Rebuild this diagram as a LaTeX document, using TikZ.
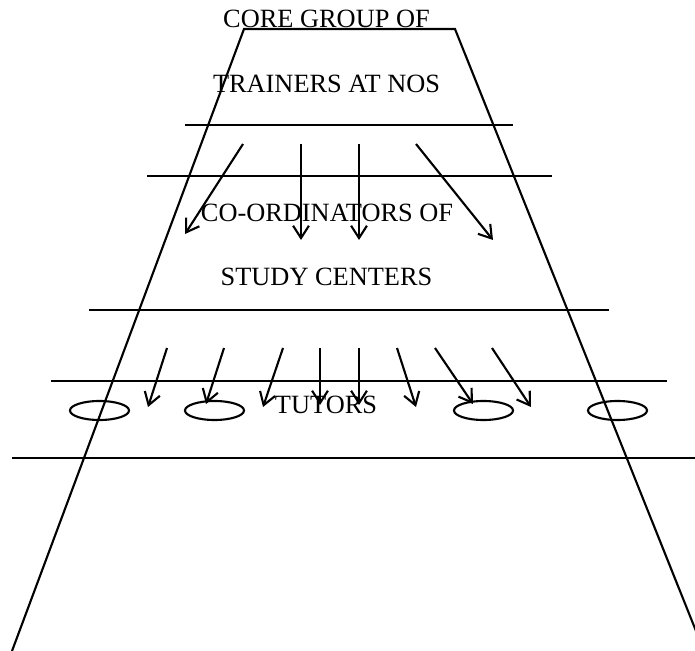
\documentclass[tikz,border=0pt]{standalone}
\usepackage{fontspec}
\setmainfont{Liberation Serif}
\usetikzlibrary{arrows.meta}

\tikzset{
  levtext/.style={anchor=base,inner sep=0pt,font=\fontsize{22.5}{27}\selectfont}
}

\begin{document}
\begin{tikzpicture}[x=0.3mm,y=-0.3mm,line width=1.8pt,
    >={Straight Barb[length=10.5pt,width=13.5pt,line width=1.8pt]}]
 \clip (0,0) rectangle (695,651);
 % outline of the pyramid
 \draw (12,651) -- (244,29) -- (455,29) -- (704,651);
 \draw (185,125) -- (513,125);
 \draw (147,176) -- (552,176);
 \draw (89,310) -- (609,310);
 \draw (51,381) -- (667,381);
 \draw (12,458) -- (695,458);
 % levels
 \node[levtext] (core) at (326.5,28) {CORE GROUP OF};
 \node[levtext] (nos) at (326.5,92.5) {TRAINERS AT NOS};
 \node[levtext] (coord) at (327,221) {CO-ORDINATORS OF};
 \node[levtext] (study) at (326.5,285) {STUDY CENTERS};
 \node[levtext] (tut) at (326,413) {TUTORS};
 % arrows
 \foreach \a/\b/\c/\d in {243/144/185/234, 301/144/301/240, 359/144/359/240, 416/144/493/240}
   \draw[->] (\a,\b) -- (\c,\d);
 \foreach \a/\b/\c in {167/148/407, 224/206/404, 283/263/407, 320/320/405, 359/359/405, 397/416/407, 435/473/404, 492/531/407}
   \draw[->] (\a,348) -- (\b,\c);
 % tutors
 \draw (99.5,410.5) ellipse (8.85mm and 2.85mm);
 \draw (214.5,410.5) ellipse (8.85mm and 2.85mm);
 \draw (483.5,410.5) ellipse (8.85mm and 2.85mm);
 \draw (617.5,410.5) ellipse (8.85mm and 2.85mm);
\end{tikzpicture}
\end{document}
